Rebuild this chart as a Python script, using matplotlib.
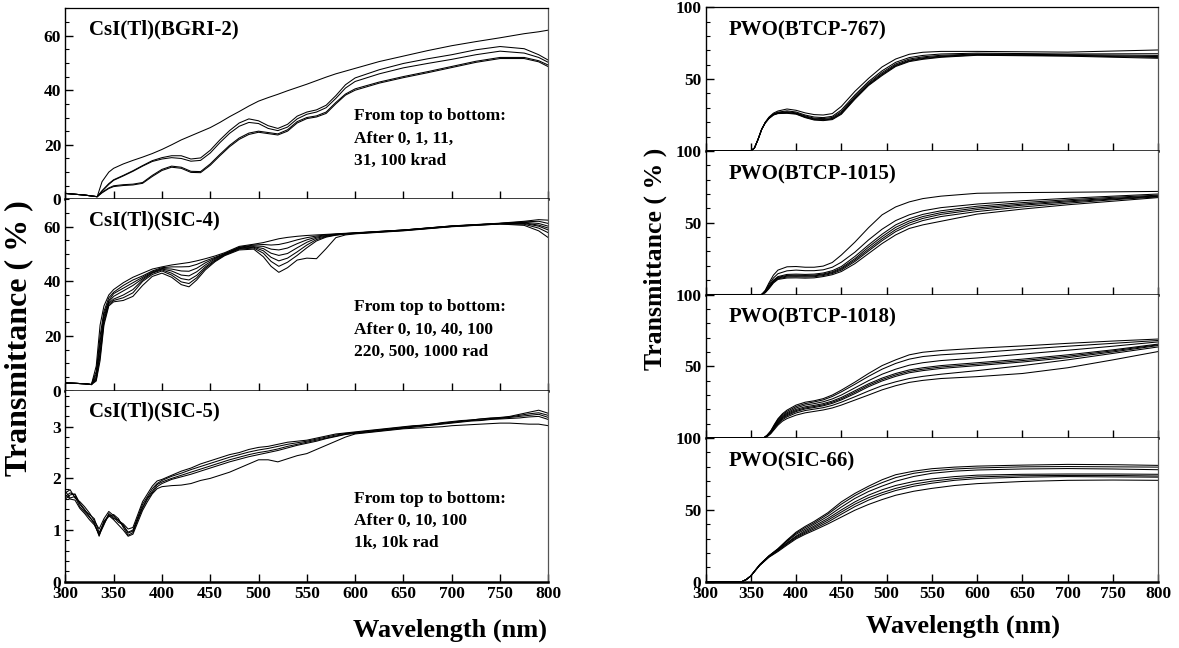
import numpy as np
import matplotlib
matplotlib.use('Agg')
import matplotlib.pyplot as plt
from matplotlib.ticker import MultipleLocator

plt.rcParams['font.family'] = ['Liberation Serif', 'DejaVu Serif']
plt.rcParams['font.weight'] = 'bold'

# ---------------- CsI(Tl)(BGRI-2) : 0, 1, 11, 31, 100 krad
wl_bgri = [300, 320, 333, 338, 345, 350, 360, 370, 380, 390, 400, 410, 420, 430, 440, 450, 460, 470, 480, 490,
           500, 510, 520, 530, 540, 550, 560, 570, 580, 590, 600, 625, 650, 675, 700, 725, 750, 775, 790, 800]
bgri_0 = [2.2, 1.6, 1.0, 6.5, 10.0, 11.4, 13.0, 14.3, 15.5, 16.8, 18.3, 20.0, 21.8, 23.3, 24.8, 26.3, 28.2, 30.3, 32.2, 34.2,
          36.0, 37.3, 38.5, 39.8, 41.0, 42.2, 43.5, 44.8, 46.0, 47.0, 48.0, 50.5, 52.5, 54.5, 56.3, 57.8, 59.2, 60.7, 61.4, 62.0]
bgri_1 = [2.2, 1.6, 1.0, 3.2, 5.8, 7.2, 8.8, 10.5, 12.4, 14.2, 15.3, 16.0, 16.0, 14.8, 15.2, 18.0, 21.8, 25.2, 28.0, 29.5,
          28.8, 27.0, 26.0, 27.5, 30.5, 32.0, 32.8, 34.5, 38.0, 42.0, 44.5, 47.5, 49.8, 51.5, 53.0, 54.8, 56.0, 55.2, 53.0, 51.0]
bgri_11 = [2.2, 1.6, 1.0, 3.0, 5.5, 7.0, 8.6, 10.3, 12.2, 13.9, 14.8, 15.3, 15.0, 14.0, 14.3, 17.0, 20.8, 24.2, 26.8, 28.2,
           27.8, 26.0, 25.2, 26.5, 29.5, 31.2, 32.0, 33.6, 37.0, 40.8, 43.2, 46.0, 48.2, 49.8, 51.3, 53.0, 54.3, 53.6, 52.0, 50.2]
bgri_31 = [2.2, 1.6, 1.0, 2.6, 4.2, 5.0, 5.4, 5.6, 6.2, 8.8, 11.0, 12.2, 11.8, 10.3, 10.2, 13.0, 16.5, 19.8, 22.5, 24.3,
           25.0, 24.5, 24.0, 25.5, 28.5, 30.0, 30.6, 32.0, 35.5, 38.6, 40.5, 43.0, 45.0, 46.8, 48.7, 50.6, 52.0, 52.0, 50.8, 49.2]
bgri_100 = [2.2, 1.6, 1.0, 2.4, 4.0, 4.7, 5.1, 5.3, 5.9, 8.4, 10.6, 11.8, 11.4, 9.9, 9.8, 12.5, 16.0, 19.3, 22.0, 23.8,
            24.6, 24.1, 23.6, 25.0, 28.0, 29.6, 30.2, 31.5, 35.0, 38.2, 40.0, 42.6, 44.6, 46.4, 48.3, 50.2, 51.6, 51.6, 50.4, 48.6]

# ---------------- CsI(Tl)(SIC-4) : 0, 10, 40, 100, 220, 500, 1000 rad
wl_sic4 = [300, 320, 327, 332, 336, 340, 345, 350, 360, 370, 380, 390, 400, 410, 420, 428, 436, 445, 455, 465,
           480, 495, 505, 513, 521, 530, 540, 550, 560, 570, 580, 590, 600, 650, 700, 750, 775, 790, 800]
sic4_0 = [2.8, 2.5, 2.2, 9, 24, 31, 35, 37, 39.5, 41.5, 43, 44.5, 45.3, 46, 46.5, 46.9, 47.5, 48.3, 49.3, 50.5,
          52.8, 53.6, 54.2, 54.9, 55.6, 56.1, 56.5, 56.8, 57.0, 57.2, 57.4, 57.6, 57.8, 58.8, 60.3, 61.3, 62.0, 62.6, 62.4]
sic4_10 = [2.8, 2.5, 2.2, 7, 20, 29, 34, 36, 38.5, 40.5, 42, 43.8, 45, 45.3, 45.3, 45.4, 46.2, 47.5, 48.8, 50.2,
           52.5, 53.3, 53.5, 53.3, 53.5, 54.2, 55.2, 56, 56.6, 57, 57.3, 57.5, 57.7, 58.8, 60.3, 61.2, 61.8, 62.0, 61.2]
sic4_40 = [2.8, 2.5, 2.2, 6, 18, 28, 33, 35.5, 37.5, 39.5, 41.5, 43.5, 44.7, 44.5, 43.8, 43.7, 44.8, 46.8, 48.5, 50,
           52.4, 53, 52.8, 51.8, 51.5, 52.2, 53.8, 55.2, 56.2, 56.8, 57.2, 57.5, 57.7, 58.8, 60.2, 61.2, 61.6, 61.2, 60.2]
sic4_100 = [2.8, 2.5, 2.2, 5, 16, 27, 32.5, 34.5, 36.5, 38.5, 41, 43.2, 44.5, 43.8, 42.3, 42, 43.5, 46, 48.2, 50,
            52.2, 52.7, 52, 50.3, 49.5, 50.2, 52.3, 54.3, 55.8, 56.6, 57.1, 57.4, 57.6, 58.7, 60.2, 61.2, 61.4, 60.6, 59.5]
sic4_220 = [2.8, 2.5, 2.2, 4.5, 14, 26, 32, 33.5, 35, 37, 40.5, 43, 44.2, 43, 41, 40.5, 42.2, 45.3, 47.8, 49.8,
            52, 52.5, 51.2, 48.8, 47.5, 48.5, 50.8, 53.3, 55.3, 56.4, 57, 57.4, 57.6, 58.7, 60.1, 61.1, 61.2, 60.2, 58.8]
sic4_500 = [2.8, 2.5, 2.2, 4, 12.5, 25, 31.5, 33, 34, 35.8, 40, 42.5, 43.8, 42.3, 39.8, 39.2, 41.3, 44.8, 47.5, 49.6,
            51.8, 52.2, 50.3, 47.3, 45.5, 47, 49.5, 52.3, 54.8, 56.2, 56.9, 57.3, 57.5, 58.6, 60.1, 61.0, 60.9, 59.5, 57.8]
sic4_1000 = [2.8, 2.5, 2.2, 3.5, 11, 24, 31, 32.5, 33, 34.5, 38.5, 41.8, 43, 41.5, 38.8, 38, 40.5, 44.2, 47.2, 49.4,
             51.5, 51.8, 49, 45.5, 43.3, 45, 47.8, 48.5, 48.3, 52, 56, 57, 57.4, 58.5, 60, 61, 60.5, 58.5, 56]

# ---------------- CsI(Tl)(SIC-5) : 0, 10, 100, 1k, 10k rad
wl_sic5 = [300, 305, 310, 315, 320, 325, 330, 335, 340, 345, 350, 355, 360, 365, 370, 375, 380, 385, 390, 395, 400,
           410, 420, 430, 440, 450, 460, 470, 480, 490, 500, 510, 520, 530, 540, 550, 560, 570, 580, 590, 600,
           610, 620, 630, 640, 650, 660, 670, 680, 690, 700, 710, 720, 730, 740, 750, 760, 770, 780, 790, 800]
sic5_0 = [1.72, 1.78, 1.62, 1.55, 1.45, 1.33, 1.18, 1.02, 1.22, 1.36, 1.28, 1.18, 1.12, 1.02, 1.05, 1.30, 1.55, 1.70, 1.85, 1.95, 1.98,
          2.06, 2.14, 2.2, 2.28, 2.34, 2.4, 2.46, 2.5, 2.56, 2.6, 2.62, 2.66, 2.7, 2.72, 2.74, 2.78, 2.82, 2.86, 2.88, 2.9,
          2.92, 2.94, 2.96, 2.98, 3.0, 3.02, 3.03, 3.05, 3.08, 3.1, 3.12, 3.13, 3.15, 3.17, 3.18, 3.2, 3.24, 3.28, 3.32, 3.26]
sic5_10 = [1.65, 1.72, 1.68, 1.5, 1.38, 1.3, 1.22, 0.95, 1.15, 1.3, 1.22, 1.2, 1.08, 0.96, 1.0, 1.25, 1.5, 1.65, 1.8, 1.9, 1.96,
           2.04, 2.1, 2.17, 2.23, 2.29, 2.35, 2.41, 2.46, 2.51, 2.55, 2.58, 2.62, 2.66, 2.69, 2.72, 2.76, 2.8, 2.84, 2.87, 2.89,
           2.91, 2.93, 2.95, 2.97, 2.99, 3.01, 3.03, 3.05, 3.07, 3.09, 3.11, 3.13, 3.15, 3.16, 3.17, 3.19, 3.22, 3.25, 3.27, 3.22]
sic5_100 = [1.6, 1.68, 1.7, 1.52, 1.4, 1.26, 1.12, 0.9, 1.1, 1.32, 1.25, 1.15, 1.1, 0.94, 0.98, 1.22, 1.45, 1.62, 1.75, 1.88, 1.93,
            2.0, 2.06, 2.12, 2.18, 2.24, 2.3, 2.36, 2.41, 2.46, 2.5, 2.53, 2.57, 2.62, 2.66, 2.7, 2.74, 2.78, 2.82, 2.86, 2.88,
            2.9, 2.92, 2.94, 2.96, 2.98, 3.0, 3.02, 3.04, 3.06, 3.08, 3.1, 3.12, 3.13, 3.15, 3.16, 3.18, 3.2, 3.22, 3.24, 3.18]
sic5_1k = [1.75, 1.62, 1.65, 1.45, 1.35, 1.25, 1.15, 0.88, 1.18, 1.26, 1.3, 1.22, 1.05, 0.9, 0.95, 1.2, 1.42, 1.6, 1.72, 1.84, 1.9,
           1.98, 2.03, 2.08, 2.14, 2.2, 2.26, 2.32, 2.37, 2.42, 2.46, 2.5, 2.54, 2.59, 2.64, 2.68, 2.72, 2.77, 2.81, 2.85, 2.87,
           2.89, 2.91, 2.93, 2.95, 2.97, 2.99, 3.01, 3.03, 3.05, 3.07, 3.09, 3.11, 3.12, 3.14, 3.15, 3.16, 3.17, 3.19, 3.2, 3.14]
sic5_10k = [1.68, 1.6, 1.58, 1.42, 1.32, 1.2, 1.1, 0.92, 1.12, 1.28, 1.2, 1.1, 1.0, 0.88, 0.92, 1.15, 1.38, 1.55, 1.7, 1.8, 1.84,
            1.86, 1.87, 1.9, 1.96, 2.0, 2.06, 2.12, 2.2, 2.28, 2.36, 2.36, 2.32, 2.38, 2.44, 2.48, 2.56, 2.64, 2.72, 2.8, 2.86,
            2.88, 2.9, 2.92, 2.94, 2.96, 2.97, 2.98, 2.99, 3.0, 3.02, 3.03, 3.04, 3.05, 3.06, 3.07, 3.07, 3.06, 3.05, 3.05, 3.02]

# ---------------- PWO(BTCP-767)
wl_767 = [300, 350, 354, 358, 362, 366, 370, 375, 380, 390, 400, 410, 420, 430, 440, 450, 465, 480, 495, 510,
          525, 540, 560, 600, 700, 800]
p767_a = [0, 0, 2, 8, 15, 20, 23.5, 26.3, 27.8, 29.2, 28.3, 26.5, 25.3, 25.0, 26.0, 31.0, 41.5, 50.5, 58.5, 64.0,
          67.3, 68.7, 69.3, 69.3, 68.8, 70.3]
p767_b = [0, 0, 2, 8, 15, 19.8, 23.0, 25.7, 27.0, 27.9, 27.1, 25.0, 23.6, 23.2, 24.1, 28.5, 39.0, 48.3, 55.8, 61.7,
          65.0, 66.5, 67.5, 68.1, 67.5, 67.7]
p767_c = [0, 0, 2, 8, 15, 19.7, 22.9, 25.5, 26.6, 27.3, 26.5, 24.4, 22.8, 22.5, 23.3, 27.4, 37.9, 47.3, 54.6, 60.6,
          64.0, 65.5, 66.6, 67.5, 67.0, 66.5]
p767_d = [0, 0, 2, 8, 15, 19.6, 22.7, 25.3, 26.4, 26.8, 26.1, 23.9, 22.3, 21.9, 22.6, 26.6, 37.1, 46.5, 53.7, 59.8,
          63.2, 64.8, 66.0, 67.1, 66.6, 65.7]
p767_e = [0, 0, 2, 8, 15, 19.55, 22.6, 25.1, 26.2, 26.5, 25.9, 23.5, 21.9, 21.5, 22.2, 26.0, 36.6, 46.0, 53.1, 59.3,
          62.7, 64.3, 65.6, 66.9, 66.3, 65.1]
p767_f = [0, 0, 2, 8, 15, 19.5, 22.5, 25.0, 26.0, 26.2, 25.6, 23.2, 21.5, 21.1, 21.8, 25.5, 36.0, 45.5, 52.5, 58.8,
          62.2, 63.8, 65.2, 66.6, 66.0, 64.5]

# ---------------- PWO(BTCP-1015)
wl_1015 = [300, 362, 366, 370, 375, 380, 390, 400, 410, 420, 430, 440, 450, 465, 480, 495, 510, 525, 540, 560,
           600, 650, 700, 750, 800]
p1015_a = [0, 0, 3, 8, 13.5, 17, 19.3, 19.5, 19.0, 19.0, 19.8, 22.3, 27.5, 36.5, 46.5, 55.5, 61.0, 64.5, 66.8, 68.5,
           70.5, 71.0, 71.2, 71.5, 71.8]
p1015_b = [0, 0, 2.5, 7, 11.5, 14.5, 16.5, 17.0, 16.6, 16.6, 17.2, 19.0, 22.5, 29.5, 38.0, 45.5, 51.5, 55.5, 58.3, 60.5,
           63.0, 65.3, 67.0, 68.5, 70.0]
p1015_c = [0, 0, 2, 6, 10, 12.5, 14, 14.2, 14.0, 14.2, 15.0, 16.6, 19.5, 26.5, 34.5, 42.0, 48.5, 52.8, 55.8, 58.3,
           61.5, 64.0, 66.0, 67.7, 69.2]
p1015_d = [0, 0, 2, 5.5, 9.5, 12.0, 13.3, 13.5, 13.3, 13.5, 14.3, 15.8, 18.5, 25.0, 33.0, 40.3, 46.8, 51.2, 54.3, 57.0,
           60.3, 63.0, 65.2, 67.0, 68.7]
p1015_e = [0, 0, 1.8, 5, 9, 11.5, 12.8, 13.0, 12.8, 13.0, 13.8, 15.2, 17.8, 24.0, 31.5, 38.8, 45.2, 49.8, 53.0, 55.8,
           59.2, 62.2, 64.5, 66.5, 68.4]
p1015_f = [0, 0, 1.5, 4.5, 8.5, 11.0, 12.2, 12.4, 12.2, 12.4, 13.2, 14.6, 17.0, 23.0, 30.3, 37.5, 43.8, 48.3, 51.5, 54.3,
           57.8, 61.0, 63.6, 66.0, 68.0]
p1015_g = [0, 0, 1.2, 4, 8, 10.5, 11.5, 11.6, 11.4, 11.6, 12.5, 13.8, 16.0, 21.5, 28.5, 35.5, 41.5, 46.0, 48.5, 51.0,
           56.0, 59.5, 62.5, 65.0, 67.5]

# ---------------- PWO(BTCP-1018)
wl_1018 = [300, 364, 368, 372, 376, 380, 385, 390, 400, 410, 420, 430, 440, 450, 465, 480, 495, 510, 525, 540,
           560, 600, 650, 700, 750, 800]
p1018_a = [0, 0, 2, 5, 9.5, 13.5, 17, 19.5, 23, 25, 26, 27.5, 30, 33.4, 39, 45, 50.5, 54.5, 58, 59.8,
           61, 62.6, 64.2, 66, 67.6, 69]
p1018_b = [0, 0, 2, 4.8, 9, 13, 16.3, 18.6, 22, 24, 25.2, 26.6, 29, 32.2, 37.5, 43, 48, 52, 55, 56.8,
           58, 59.5, 61.8, 64, 66, 68]
p1018_c = [0, 0, 1.8, 4.5, 8.5, 12.3, 15.5, 17.7, 21, 23, 24, 25.3, 27.3, 30, 35, 40, 44.5, 48, 50.8, 52.5,
           54, 55.8, 58.5, 61.2, 64, 67]
p1018_d = [0, 0, 1.6, 4.2, 8, 11.6, 14.8, 17, 20, 21.8, 22.8, 24, 25.8, 28.3, 33, 37.8, 41.8, 45, 47.5, 49,
           50.5, 52.5, 55, 58, 61.5, 65.5]
p1018_e = [0, 0, 1.5, 4, 7.6, 11, 14.2, 16.3, 19.2, 21, 22, 23.2, 25, 27.4, 32, 36.8, 40.8, 44, 46.5, 48,
           49.5, 51.5, 54, 57, 60.8, 65]
p1018_f = [0, 0, 1.4, 3.8, 7.2, 10.5, 13.6, 15.6, 18.5, 20.3, 21.3, 22.5, 24.2, 26.6, 31, 35.8, 39.8, 43, 45.5, 47,
           48.5, 50.5, 53, 56, 60, 64.5]
p1018_g = [0, 0, 1.2, 3.5, 6.8, 9.8, 12.8, 14.8, 17.5, 19.2, 20.2, 21.2, 22.8, 25, 28.8, 32.8, 36.5, 39.2, 41.5, 43,
           44.5, 47, 50.5, 54.5, 59, 63.5]
p1018_h = [0, 0, 1, 3, 6, 9, 11.8, 13.6, 16, 17.6, 18.6, 19.6, 21, 23, 26.5, 30, 33.6, 36.5, 38.8, 40.2,
           41.5, 42.8, 45, 49, 54.5, 60.3]

# ---------------- PWO(SIC-66)
wl_66 = [300, 340, 345, 350, 355, 360, 370, 380, 390, 400, 410, 420, 435, 450, 465, 480, 495, 510, 530, 550,
         575, 600, 650, 700, 750, 800]
p66_a = [0, 0, 1.5, 4, 8, 12, 18, 23, 29, 34.5, 38.5, 42, 48, 55.6, 61.5, 66.5, 71, 74.5, 77, 78.7,
         79.8, 80.5, 81.2, 81.7, 81.5, 81]
p66_b = [0, 0, 1.5, 4, 8, 12, 18, 22.8, 28.5, 33.8, 37.6, 41, 47, 54, 60, 65, 69, 72.5, 75.5, 77.2,
         78.5, 79.2, 80, 80.2, 80, 79.8]
p66_c = [0, 0, 1.5, 4, 8, 11.8, 17.8, 22.5, 28, 33, 36.5, 40, 45.5, 52, 58, 62.8, 66.6, 70, 73.3, 75.5,
         77, 77.8, 78.5, 78.8, 78.5, 78]
p66_d = [0, 0, 1.5, 4, 8, 11.7, 17.6, 22.3, 27, 31.8, 35.5, 38.8, 44, 50, 55.6, 60.3, 64, 67, 69.8, 71.6,
         73.2, 74.2, 74.8, 75, 75, 74.8]
p66_e = [0, 0, 1.5, 4, 7.8, 11.6, 17.4, 22, 26.8, 31.2, 34.6, 37.8, 42.8, 48.5, 54, 58.5, 62, 65, 68, 70,
         71.8, 73, 73.8, 74, 74, 73.6]
p66_f = [0, 0, 1.5, 4, 7.8, 11.5, 17.2, 21.5, 26.2, 30.5, 33.8, 36.8, 41.5, 47, 52.3, 56.8, 60.5, 63.5, 66.5, 68.6,
         70.6, 71.8, 72.8, 73.2, 73, 72.8]
p66_g = [0, 0, 1.5, 4, 7.8, 11.4, 17, 21, 25.5, 29.8, 33, 35.8, 40.2, 45, 49.8, 53.8, 57.2, 60.2, 63, 65,
         67, 68.3, 69.8, 70.6, 70.8, 70.6]

izq_titulos = ["CsI(Tl)(BGRI-2)", "CsI(Tl)(SIC-4)", "CsI(Tl)(SIC-5)"]
izq_notas = [["From top to bottom:", "After 0, 1, 11,", "31, 100 krad"],
             ["From top to bottom:", "After 0, 10, 40, 100", "220, 500, 1000 rad"],
             ["From top to bottom:", "After 0, 10, 100", "1k, 10k rad"]]
der_titulos = ["PWO(BTCP-767)", "PWO(BTCP-1015)", "PWO(BTCP-1018)", "PWO(SIC-66)"]

izq_datos = [(wl_bgri, [bgri_0, bgri_1, bgri_11, bgri_31, bgri_100]),
             (wl_sic4, [sic4_0, sic4_10, sic4_40, sic4_100, sic4_220, sic4_500, sic4_1000]),
             (wl_sic5, [sic5_0, sic5_10, sic5_100, sic5_1k, sic5_10k])]
der_datos = [(wl_767, [p767_a, p767_b, p767_c, p767_d, p767_e, p767_f]),
             (wl_1015, [p1015_a, p1015_b, p1015_c, p1015_d, p1015_e, p1015_f, p1015_g]),
             (wl_1018, [p1018_a, p1018_b, p1018_c, p1018_d, p1018_e, p1018_f, p1018_g, p1018_h]),
             (wl_66, [p66_a, p66_b, p66_c, p66_d, p66_e, p66_f, p66_g])]

fig = plt.figure(figsize=(11.79, 6.48), dpi=100)
gl = fig.add_gridspec(3, 1, left=0.0554, right=0.4651, bottom=0.1023, top=0.9872, hspace=0)
gr = fig.add_gridspec(4, 1, left=0.5984, right=0.9824, bottom=0.1023, top=0.9887, hspace=0)


def estilo(ax, ultimo, primero):
    ax.set_xlim(300, 800)
    ax.xaxis.set_major_locator(MultipleLocator(50))
    ax.tick_params(axis='both', which='both', direction='in', top=False, right=False, labelsize=12.5, pad=3)
    ax.tick_params(which='major', length=6, width=1)
    ax.tick_params(which='minor', length=3, width=0.8)
    ax.tick_params(axis='x', which='minor', bottom=False)
    ax.spines['bottom'].set_linewidth(1.8)
    ax.spines['left'].set_linewidth(1.0)
    ax.spines['right'].set_linewidth(0.9)
    ax.spines['right'].set_color('#555555')
    ax.spines['top'].set_linewidth(0.9)
    if not primero:
        ax.spines['top'].set_visible(False)
    if not ultimo:
        ax.tick_params(labelbottom=False)


# panel izquierdo: CsI(Tl)
lims_izq = [70, 70, 3.7]
for i in range(3):
    ax = fig.add_subplot(gl[i])
    wl, curvas = izq_datos[i]
    for c in curvas:
        ax.plot(wl, c, c='k', lw=0.75)
    ax.set_ylim(0, lims_izq[i])
    if i < 2:
        ax.set_yticks([0, 20, 40, 60])
        ax.yaxis.set_minor_locator(MultipleLocator(5))
    else:
        ax.set_yticks([0, 1, 2, 3])
        ax.yaxis.set_minor_locator(MultipleLocator(0.2))
    estilo(ax, i == 2, i == 0)
    ax.text(0.05, 0.89, izq_titulos[i], transform=ax.transAxes, fontsize=15, va='center', ha='left')
    for k, linea in enumerate(izq_notas[i]):
        ax.text(0.597, 0.435 - 0.117 * k, linea, transform=ax.transAxes, fontsize=12.5, va='center', ha='left')

# panel derecho: PWO
for i in range(4):
    ax = fig.add_subplot(gr[i])
    wl, curvas = der_datos[i]
    for c in curvas:
        ax.plot(wl, c, c='k', lw=0.75)
    ax.set_ylim(0, 100)
    if i == 3:
        ax.set_yticks([0, 50, 100])
    else:
        ax.set_yticks([50, 100])
    ax.yaxis.set_minor_locator(MultipleLocator(10))
    estilo(ax, i == 3, i == 0)
    ax.text(0.05, 0.837, der_titulos[i], transform=ax.transAxes, fontsize=15, va='center', ha='left')

fig.text(0.016, 0.478, "Transmittance ( % )", rotation=90, fontsize=23, ha='center', va='center')
fig.text(0.556, 0.60, "Transmittance ( % )", rotation=90, fontsize=18.5, ha='center', va='center')
fig.text(0.464, 0.028, "Wavelength (nm)", fontsize=19, ha='right', va='center')
fig.text(0.899, 0.034, "Wavelength (nm)", fontsize=19, ha='right', va='center')

plt.savefig("out.png", dpi=100)
